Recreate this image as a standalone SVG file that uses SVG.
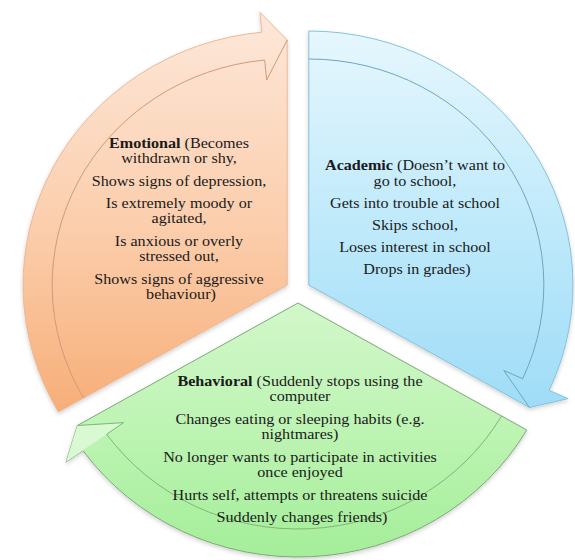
<svg xmlns="http://www.w3.org/2000/svg" width="575" height="560" viewBox="0 0 575 560">
<defs>
<linearGradient id="gO" x1="0" y1="0" x2="0" y2="1">
<stop offset="0" stop-color="#fde8da"/>
<stop offset="0.55" stop-color="#fbcdab"/>
<stop offset="1" stop-color="#f7ae78"/>
</linearGradient>
<linearGradient id="gB" x1="0" y1="0" x2="0" y2="1">
<stop offset="0" stop-color="#e6f7fd"/>
<stop offset="0.5" stop-color="#c0eafb"/>
<stop offset="1" stop-color="#9fdcf7"/>
</linearGradient>
<linearGradient id="gG" x1="0" y1="0" x2="0" y2="1">
<stop offset="0" stop-color="#d2f7ca"/>
<stop offset="0.5" stop-color="#bdf4b3"/>
<stop offset="1" stop-color="#a4ee99"/>
</linearGradient>
<filter id="sh" x="-10%" y="-10%" width="120%" height="120%">
<feDropShadow dx="0" dy="2" stdDeviation="2" flood-color="#000" flood-opacity="0.18"/>
</filter>
</defs>
<style>
.shape{stroke-width:1;vector-effect:non-scaling-stroke;filter:url(#sh)}
.inner{fill:none;stroke-width:1;vector-effect:non-scaling-stroke}
text{font-family:"Liberation Serif","Times New Roman",serif;font-size:15.5px;fill:#1a1a1a;text-anchor:middle}
.b{font-weight:bold}
</style>

<g id="emotional">
<g transform="translate(298,291) scale(1.04,1)">
<path class="shape" fill="url(#gO)" stroke="#eab898" d="M -10.39,-6 L -230.36,121 A 254 254 0 0 1 -34.74,-258.83 L -36.65,-278.74 L -10.39,-251 Z"/>
<path class="inner" stroke="#d09a7c" d="M -206.11,107 A 226 226 0 0 1 -32.05,-230.96 L -30.14,-211.05 L -10.39,-251"/>
</g>
<text transform="translate(181,0) scale(1.04,1)">
<tspan x="0" y="148"><tspan class="b">Emotional</tspan> (Becomes</tspan>
<tspan x="0" y="163">withdrawn or shy,</tspan>
<tspan x="0" y="186">Shows signs of depression,</tspan>
<tspan x="0" y="208">Is extremely moody or</tspan>
<tspan x="0" y="223">agitated,</tspan>
<tspan x="0" y="246">Is anxious or overly</tspan>
<tspan x="0" y="261">stressed out,</tspan>
<tspan x="0" y="284">Shows signs of aggressive</tspan>
<tspan x="0" y="299">behaviour)</tspan>
</text>
</g>

<g id="academic">
<g transform="translate(298,291) scale(1.04,1)">
<path class="shape" fill="url(#gB)" stroke="#86c2da" d="M 10.39,-6 L 10.39,-260 A 254 254 0 0 1 241.52,99.33 L 259.72,107.63 L 222.57,116.5 Z"/>
<path class="inner" stroke="#6fa6bf" d="M 10.39,-232 A 226 226 0 0 1 216.04,87.72 L 197.84,79.43 L 222.57,116.5"/>
</g>
<text transform="translate(417,0) scale(1.04,1)">
<tspan x="0" y="170"><tspan class="b">Academic</tspan> (Doesn’t want to</tspan>
<tspan x="0" y="186">go to school,</tspan>
<tspan x="0" y="208">Gets into trouble at school</tspan>
<tspan x="0" y="230">Skips school,</tspan>
<tspan x="0" y="252">Loses interest in school</tspan>
<tspan x="0" y="274">Drops in grades)</tspan>
</text>
</g>

<g id="behavioral">
<g transform="translate(298,291) scale(1.04,1)">
<path class="shape" fill="url(#gG)" stroke="#7ea87a" d="M 0,12 L 219.97,139 A 254 254 0 0 1 -206.79,159.5 L -223.07,171.11 L -212.18,134.5 Z"/>
<path fill="#d8f9d1" d="M -167.71,131.62 L -223.07,171.11 L -212.18,134.5 Z"/>
<path class="inner" stroke="#7fb677" d="M 195.72,125 A 226 226 0 0 1 -183.99,143.24 L -167.71,131.62 L -212.18,134.5"/>
</g>
<text transform="translate(302,0) scale(1.04,1)">
<tspan x="0" y="386"><tspan class="b">Behavioral</tspan> (Suddenly stops using the</tspan>
<tspan x="0" y="401">computer</tspan>
<tspan x="0" y="424">Changes eating or sleeping habits (e.g.</tspan>
<tspan x="0" y="439">nightmares)</tspan>
<tspan x="0" y="462">No longer wants to participate in activities</tspan>
<tspan x="0" y="477">once enjoyed</tspan>
<tspan x="0" y="500">Hurts self, attempts or threatens suicide</tspan>
<tspan x="0" y="522">Suddenly changes friends)</tspan>
</text>
</g>
</svg>
